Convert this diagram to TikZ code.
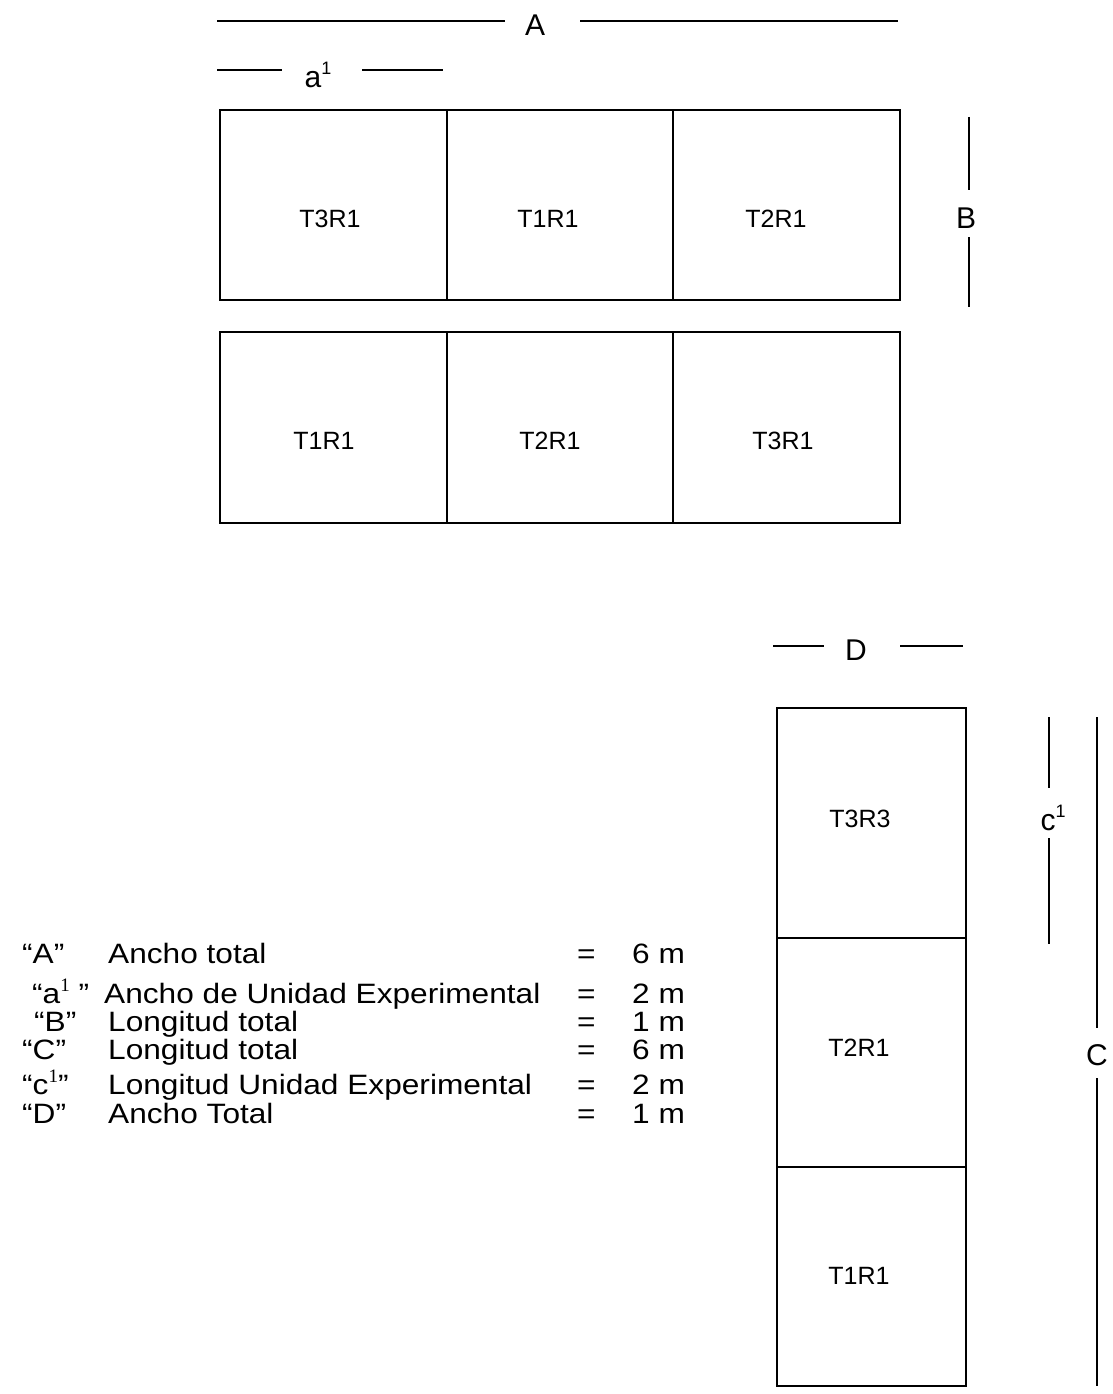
\documentclass[tikz,border=0pt]{standalone}
\usepackage{fontspec}
\setmainfont{Liberation Sans}
\newfontfamily\serifone{Liberation Serif}
\newfontfamily\legfont[FakeStretch=1.13]{Liberation Sans}
\newcommand{\supsans}[1]{\raisebox{0.45em}{\fontsize{18}{18}\selectfont #1}}
\newcommand{\supserif}[1]{\raisebox{0.42em}{\serifone\fontsize{19}{19}\selectfont #1}}
\begin{document}
\begin{tikzpicture}[x=1pt,y=-1pt,
  cellline/.style={line width=2.5pt},
  dimline/.style={line width=2pt},
  lbl/.style={font=\fontsize{25}{27}\selectfont, inner sep=0},
  dimlbl/.style={font=\fontsize{30}{32}\selectfont, inner sep=0},
  leg/.style={font=\legfont\fontsize{28}{30}\selectfont, inner sep=0, anchor=base west}]
\useasboundingbox (0,0) rectangle (1112,1394);

% ---- dimension A
\draw[dimline] (217,21) -- (505,21);
\node[dimlbl] (dimA) at (535,25) {A};
\draw[dimline] (580,21) -- (898,21);
% ---- dimension a1
\draw[dimline] (217,70) -- (282,70);
\node[dimlbl] (dima) at (318,75) {a\supsans{1}};
\draw[dimline] (362,70) -- (443,70);

% ---- top row of plots
\draw[cellline] (220,110) rectangle (900,300);
\draw[cellline] (447,110) -- (447,300);
\draw[cellline] (673,110) -- (673,300);
\node[lbl] (r1c1) at (330,219) {T3R1};
\node[lbl] (r1c2) at (548,219) {T1R1};
\node[lbl] (r1c3) at (776,219) {T2R1};

% ---- dimension B
\draw[dimline] (969,117) -- (969,190);
\node[dimlbl] (dimB) at (966,218) {B};
\draw[dimline] (969,237) -- (969,307);

% ---- second row of plots
\draw[cellline] (220,332) rectangle (900,523);
\draw[cellline] (447,332) -- (447,523);
\draw[cellline] (673,332) -- (673,523);
\node[lbl] (r2c1) at (324,441) {T1R1};
\node[lbl] (r2c2) at (550,441) {T2R1};
\node[lbl] (r2c3) at (783,441) {T3R1};

% ---- dimension D
\draw[dimline] (773,646) -- (824,646);
\node[dimlbl] (dimD) at (856,650) {D};
\draw[dimline] (900,646) -- (963,646);

% ---- vertical column of plots
\draw[cellline] (777,708) rectangle (966,1386);
\draw[cellline] (777,938) -- (966,938);
\draw[cellline] (777,1167) -- (966,1167);
\node[lbl] (v1) at (860,819) {T3R3};
\node[lbl] (v2) at (859,1048) {T2R1};
\node[lbl] (v3) at (859,1276) {T1R1};

% ---- dimension c1
\draw[dimline] (1049,717) -- (1049,788);
\node[dimlbl] (dimc) at (1053,818) {c\supsans{1}};
\draw[dimline] (1049,838) -- (1049,944);

% ---- dimension C
\draw[dimline] (1097,717) -- (1097,1028);
\node[dimlbl] (dimC) at (1097,1055) {C};
\draw[dimline] (1097,1078) -- (1097,1386);

% ---- legend
\node[leg] (l1a) at (22,963) {“A”};
\node[leg] (l1b) at (108,963) {Ancho total};
\node[leg] (l1c) at (577,963) {=};
\node[leg] (l1d) at (632,963) {6 m};

\node[leg] (l2a) at (32,1003) {“a\supserif{1} ”};
\node[leg] (l2b) at (104,1003) {Ancho de Unidad Experimental};
\node[leg] (l2c) at (577,1003) {=};
\node[leg] (l2d) at (632,1003) {2 m};

\node[leg] (l3a) at (34,1031) {“B”};
\node[leg] (l3b) at (108,1031) {Longitud total};
\node[leg] (l3c) at (577,1031) {=};
\node[leg] (l3d) at (632,1031) {1 m};

\node[leg] (l4a) at (22,1059) {“C”};
\node[leg] (l4b) at (108,1059) {Longitud total};
\node[leg] (l4c) at (577,1059) {=};
\node[leg] (l4d) at (632,1059) {6 m};

\node[leg] (l5a) at (22,1094) {“c\supserif{1}”};
\node[leg] (l5b) at (108,1094) {Longitud Unidad Experimental};
\node[leg] (l5c) at (577,1094) {=};
\node[leg] (l5d) at (632,1094) {2 m};

\node[leg] (l6a) at (22,1123) {“D”};
\node[leg] (l6b) at (108,1123) {Ancho Total};
\node[leg] (l6c) at (577,1123) {=};
\node[leg] (l6d) at (632,1123) {1 m};
\end{tikzpicture}
\end{document}
